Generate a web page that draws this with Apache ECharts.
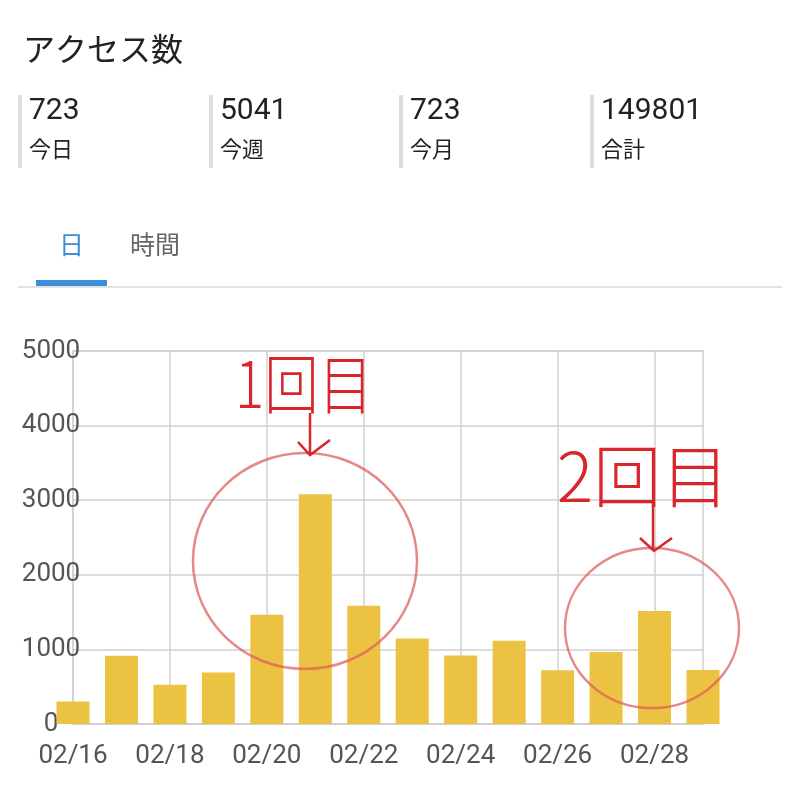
<!DOCTYPE html>
<html>
<head>
<meta charset="utf-8">
<script src="https://cdn.jsdelivr.net/npm/echarts@6/dist/echarts.min.js"></script>
<style>
html,body{margin:0;padding:0;background:#fff;}
#c{width:800px;height:797px;}
</style>
</head>
<body>
<div id="c"></div>
<script>
const categories = ['02/16','02/17','02/18','02/19','02/20','02/21','02/22','02/23','02/24','02/25','02/26','02/27','02/28','03/01'];
const accessValues = [303, 915, 526, 691, 1464, 3081, 1585, 1147, 919, 1115, 722, 965, 1516, 723];
const yTicks = [0, 1000, 2000, 3000, 4000, 5000];
const statValues = ['723', '5041', '723', '149801'];
const statLabels = ['今日', '今週', '今月', '合計'];
const tabLabels = ['日', '時間'];
const notes = ['1回目', '2回目'];

const FONT = "Roboto, 'Noto Sans CJK JP', sans-serif";
const JP = "'Noto Sans CJK JP', Roboto, sans-serif";

const chart = echarts.init(document.getElementById('c'), null, {renderer: 'canvas'});

const statX = [18, 209, 399, 590];
const graphics = [];
statValues.forEach((v, i) => {
  graphics.push({type: 'rect', left: statX[i], top: 95, shape: {width: 4, height: 73}, style: {fill: '#dedede'}});
  graphics.push({type: 'text', left: statX[i] + 11, top: 97, style: {text: v, font: '30px ' + FONT, fill: '#222'}});
  graphics.push({type: 'text', left: statX[i] + 11, top: 138, style: {text: statLabels[i], font: '22px ' + JP, fill: '#222'}});
});
// tabs
graphics.push({type: 'text', left: 59, top: 232, style: {text: tabLabels[0], font: '25px ' + JP, fill: '#3b8fd2'}});
graphics.push({type: 'text', left: 130, top: 232, style: {text: tabLabels[1], font: '25px ' + JP, fill: '#666'}});
graphics.push({type: 'rect', left: 18, top: 286, shape: {width: 764, height: 2}, style: {fill: '#e2e2e2'}});
graphics.push({type: 'rect', left: 36, top: 280, shape: {width: 71, height: 6}, style: {fill: '#3b8fd8'}});

// hand-drawn annotations
const red = '#d8262c';
const pink = 'rgba(222,90,90,0.72)';
graphics.push({type: 'ellipse', shape: {cx: 305, cy: 561, rx: 112, ry: 108}, style: {fill: 'none', stroke: pink, lineWidth: 2.5}, z: 100});
graphics.push({type: 'ellipse', shape: {cx: 652, cy: 628, rx: 87, ry: 80}, style: {fill: 'none', stroke: pink, lineWidth: 2.5}, z: 100});
graphics.push({type: 'polyline', shape: {points: [[310, 413], [310, 455]]}, style: {stroke: red, lineWidth: 2.5, fill: null}, z: 100});
graphics.push({type: 'polyline', shape: {points: [[298, 442], [310, 455], [330, 440]]}, style: {stroke: red, lineWidth: 2.5, fill: null}, z: 100});
graphics.push({type: 'polyline', shape: {points: [[653, 502], [653, 550]]}, style: {stroke: red, lineWidth: 2.5, fill: null}, z: 100});
graphics.push({type: 'polyline', shape: {points: [[640, 538], [654, 551], [672, 538]]}, style: {stroke: red, lineWidth: 2.5, fill: null}, z: 100});
graphics.push({type: 'text', x: 304, y: 416, scaleX: 0.85, originX: 0, originY: 0,
  style: {text: notes[0], font: '300 64px ' + JP, fill: red, align: 'center', verticalAlign: 'bottom'}, z: 100});
graphics.push({type: 'text', x: 643, y: 510,
  style: {text: notes[1], font: '300 68px ' + JP, fill: red, align: 'center', verticalAlign: 'bottom'}, z: 100});

chart.setOption({
  animation: false,
  backgroundColor: '#fff',
  title: {
    text: 'アクセス数', left: 18, top: 28,
    textStyle: {fontFamily: JP, fontSize: 32, fontWeight: 'normal', color: '#222'}
  },
  grid: {left: 73, right: 97, top: 351, bottom: 73, show: true, borderColor: '#cfcfcf', borderWidth: 1.5},
  xAxis: {
    type: 'category',
    data: categories,
    boundaryGap: false,
    axisLine: {show: true, lineStyle: {color: '#cfcfcf', width: 1.5}},
    axisTick: {show: false},
    axisLabel: {interval: 1, color: '#555', fontSize: 26, fontFamily: FONT, margin: 19},
    splitLine: {show: true, interval: 1, lineStyle: {color: '#d0d0d0', width: 1.5}}
  },
  yAxis: {
    type: 'value',
    min: yTicks[0], max: yTicks[yTicks.length - 1], interval: 1000,
    axisLine: {show: false},
    axisTick: {show: false},
    axisLabel: {color: '#555', fontSize: 26, fontFamily: FONT, align: 'center', margin: 22,
      formatter: v => String(v)},
    splitLine: {show: true, lineStyle: {color: '#d0d0d0', width: 1.5}}
  },
  series: [{
    type: 'bar',
    data: accessValues,
    barWidth: 33,
    itemStyle: {color: '#ebc241'},
    z: 3
  }],
  graphic: graphics
});
</script>
</body>
</html>
